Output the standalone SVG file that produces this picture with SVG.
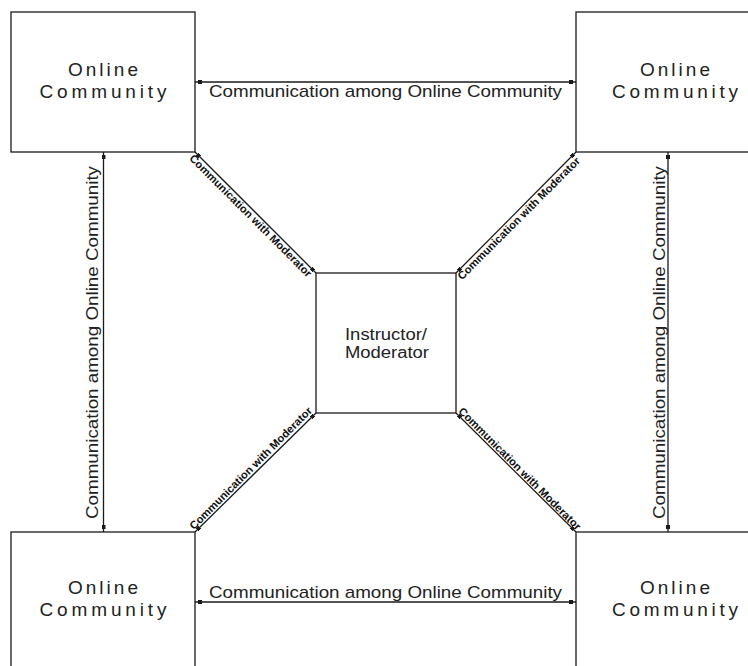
<svg xmlns="http://www.w3.org/2000/svg" width="748" height="666" viewBox="0 0 748 666">
  <style>
    .box { fill: #ffffff; stroke: #1a1a1a; stroke-width: 1.3; }
    .conn { fill: none; stroke: #1a1a1a; stroke-width: 1.3; marker-start: url(#sq); marker-end: url(#sq); }
    .node { font-family: "Liberation Sans", Arial, sans-serif; font-size: 19px; fill: #222; text-anchor: middle; }
    .mod { font-family: "Liberation Sans", Arial, sans-serif; font-size: 16px; fill: #222; text-anchor: middle; }
    .lbl { font-family: "Liberation Sans", Arial, sans-serif; font-size: 17px; fill: #222; text-anchor: middle; }
    .dlbl { font-family: "Liberation Sans", Arial, sans-serif; font-size: 11px; font-weight: bold; fill: #111; text-anchor: middle; }
  </style>
  <defs>
    <marker id="sq" viewBox="0 0 4 4" markerWidth="4" markerHeight="4" markerUnits="userSpaceOnUse" refX="7" refY="2" orient="auto-start-reverse">
      <rect x="0" y="0" width="4" height="4" fill="#1a1a1a"/>
    </marker>
  </defs>
  <rect width="748" height="666" fill="#ffffff"/>

  <g id="connectors">
    <line class="conn" x1="195" y1="82" x2="576" y2="82"/>
    <line class="conn" x1="195" y1="602" x2="576" y2="602"/>
    <line class="conn" x1="103.5" y1="152" x2="103.5" y2="532"/>
    <line class="conn" x1="668" y1="152" x2="668" y2="532"/>
    <line class="conn" x1="195" y1="152" x2="316" y2="273"/>
    <line class="conn" x1="576" y1="152" x2="456" y2="273"/>
    <line class="conn" x1="195" y1="532" x2="316" y2="413"/>
    <line class="conn" x1="576" y1="532" x2="456" y2="413"/>

    <text class="lbl" x="385.5" y="97" textLength="353" lengthAdjust="spacingAndGlyphs">Communication among Online Community</text>
    <text class="lbl" x="385.5" y="598" textLength="353" lengthAdjust="spacingAndGlyphs">Communication among Online Community</text>
    <text class="lbl" transform="translate(98,342.5) rotate(-90)" x="0" y="0" textLength="353" lengthAdjust="spacingAndGlyphs">Communication among Online Community</text>
    <text class="lbl" transform="translate(664.5,342.5) rotate(-90)" x="0" y="0" textLength="353" lengthAdjust="spacingAndGlyphs">Communication among Online Community</text>

    <text class="dlbl" transform="translate(195,152) rotate(45)" x="84.5" y="9.5" textLength="168" lengthAdjust="spacingAndGlyphs">Communication with Moderator</text>
    <text class="dlbl" transform="translate(456,273) rotate(-45)" x="83" y="9.5" textLength="168" lengthAdjust="spacingAndGlyphs">Communication with Moderator</text>
    <text class="dlbl" transform="translate(195,532) rotate(-45)" x="84.5" y="-2" textLength="168" lengthAdjust="spacingAndGlyphs">Communication with Moderator</text>
    <text class="dlbl" transform="translate(456,413) rotate(45)" x="84.5" y="-2" textLength="168" lengthAdjust="spacingAndGlyphs">Communication with Moderator</text>
  </g>

  <g id="community-top-left">
    <rect class="box" x="11" y="12" width="184" height="140"/>
    <text class="node" x="103" y="76" textLength="70" lengthAdjust="spacing">Online</text>
    <text class="node" x="103" y="97.5" textLength="127" lengthAdjust="spacing">Community</text>
  </g>

  <g id="community-top-right">
    <rect class="box" x="576" y="12" width="198" height="140"/>
    <text class="node" x="675" y="76" textLength="70" lengthAdjust="spacing">Online</text>
    <text class="node" x="675" y="97.5" textLength="126" lengthAdjust="spacing">Community</text>
  </g>

  <g id="instructor-moderator">
    <rect class="box" x="316" y="273" width="140" height="140"/>
    <text class="mod" x="386" y="340" textLength="82" lengthAdjust="spacingAndGlyphs">Instructor/</text>
    <text class="mod" x="387" y="357.5" textLength="84" lengthAdjust="spacingAndGlyphs">Moderator</text>
  </g>

  <g id="community-bottom-left">
    <rect class="box" x="11" y="532" width="184" height="140"/>
    <text class="node" x="103" y="594" textLength="70" lengthAdjust="spacing">Online</text>
    <text class="node" x="103" y="616" textLength="127" lengthAdjust="spacing">Community</text>
  </g>

  <g id="community-bottom-right">
    <rect class="box" x="576" y="532" width="198" height="140"/>
    <text class="node" x="675" y="594" textLength="70" lengthAdjust="spacing">Online</text>
    <text class="node" x="675" y="616" textLength="126" lengthAdjust="spacing">Community</text>
  </g>
</svg>
